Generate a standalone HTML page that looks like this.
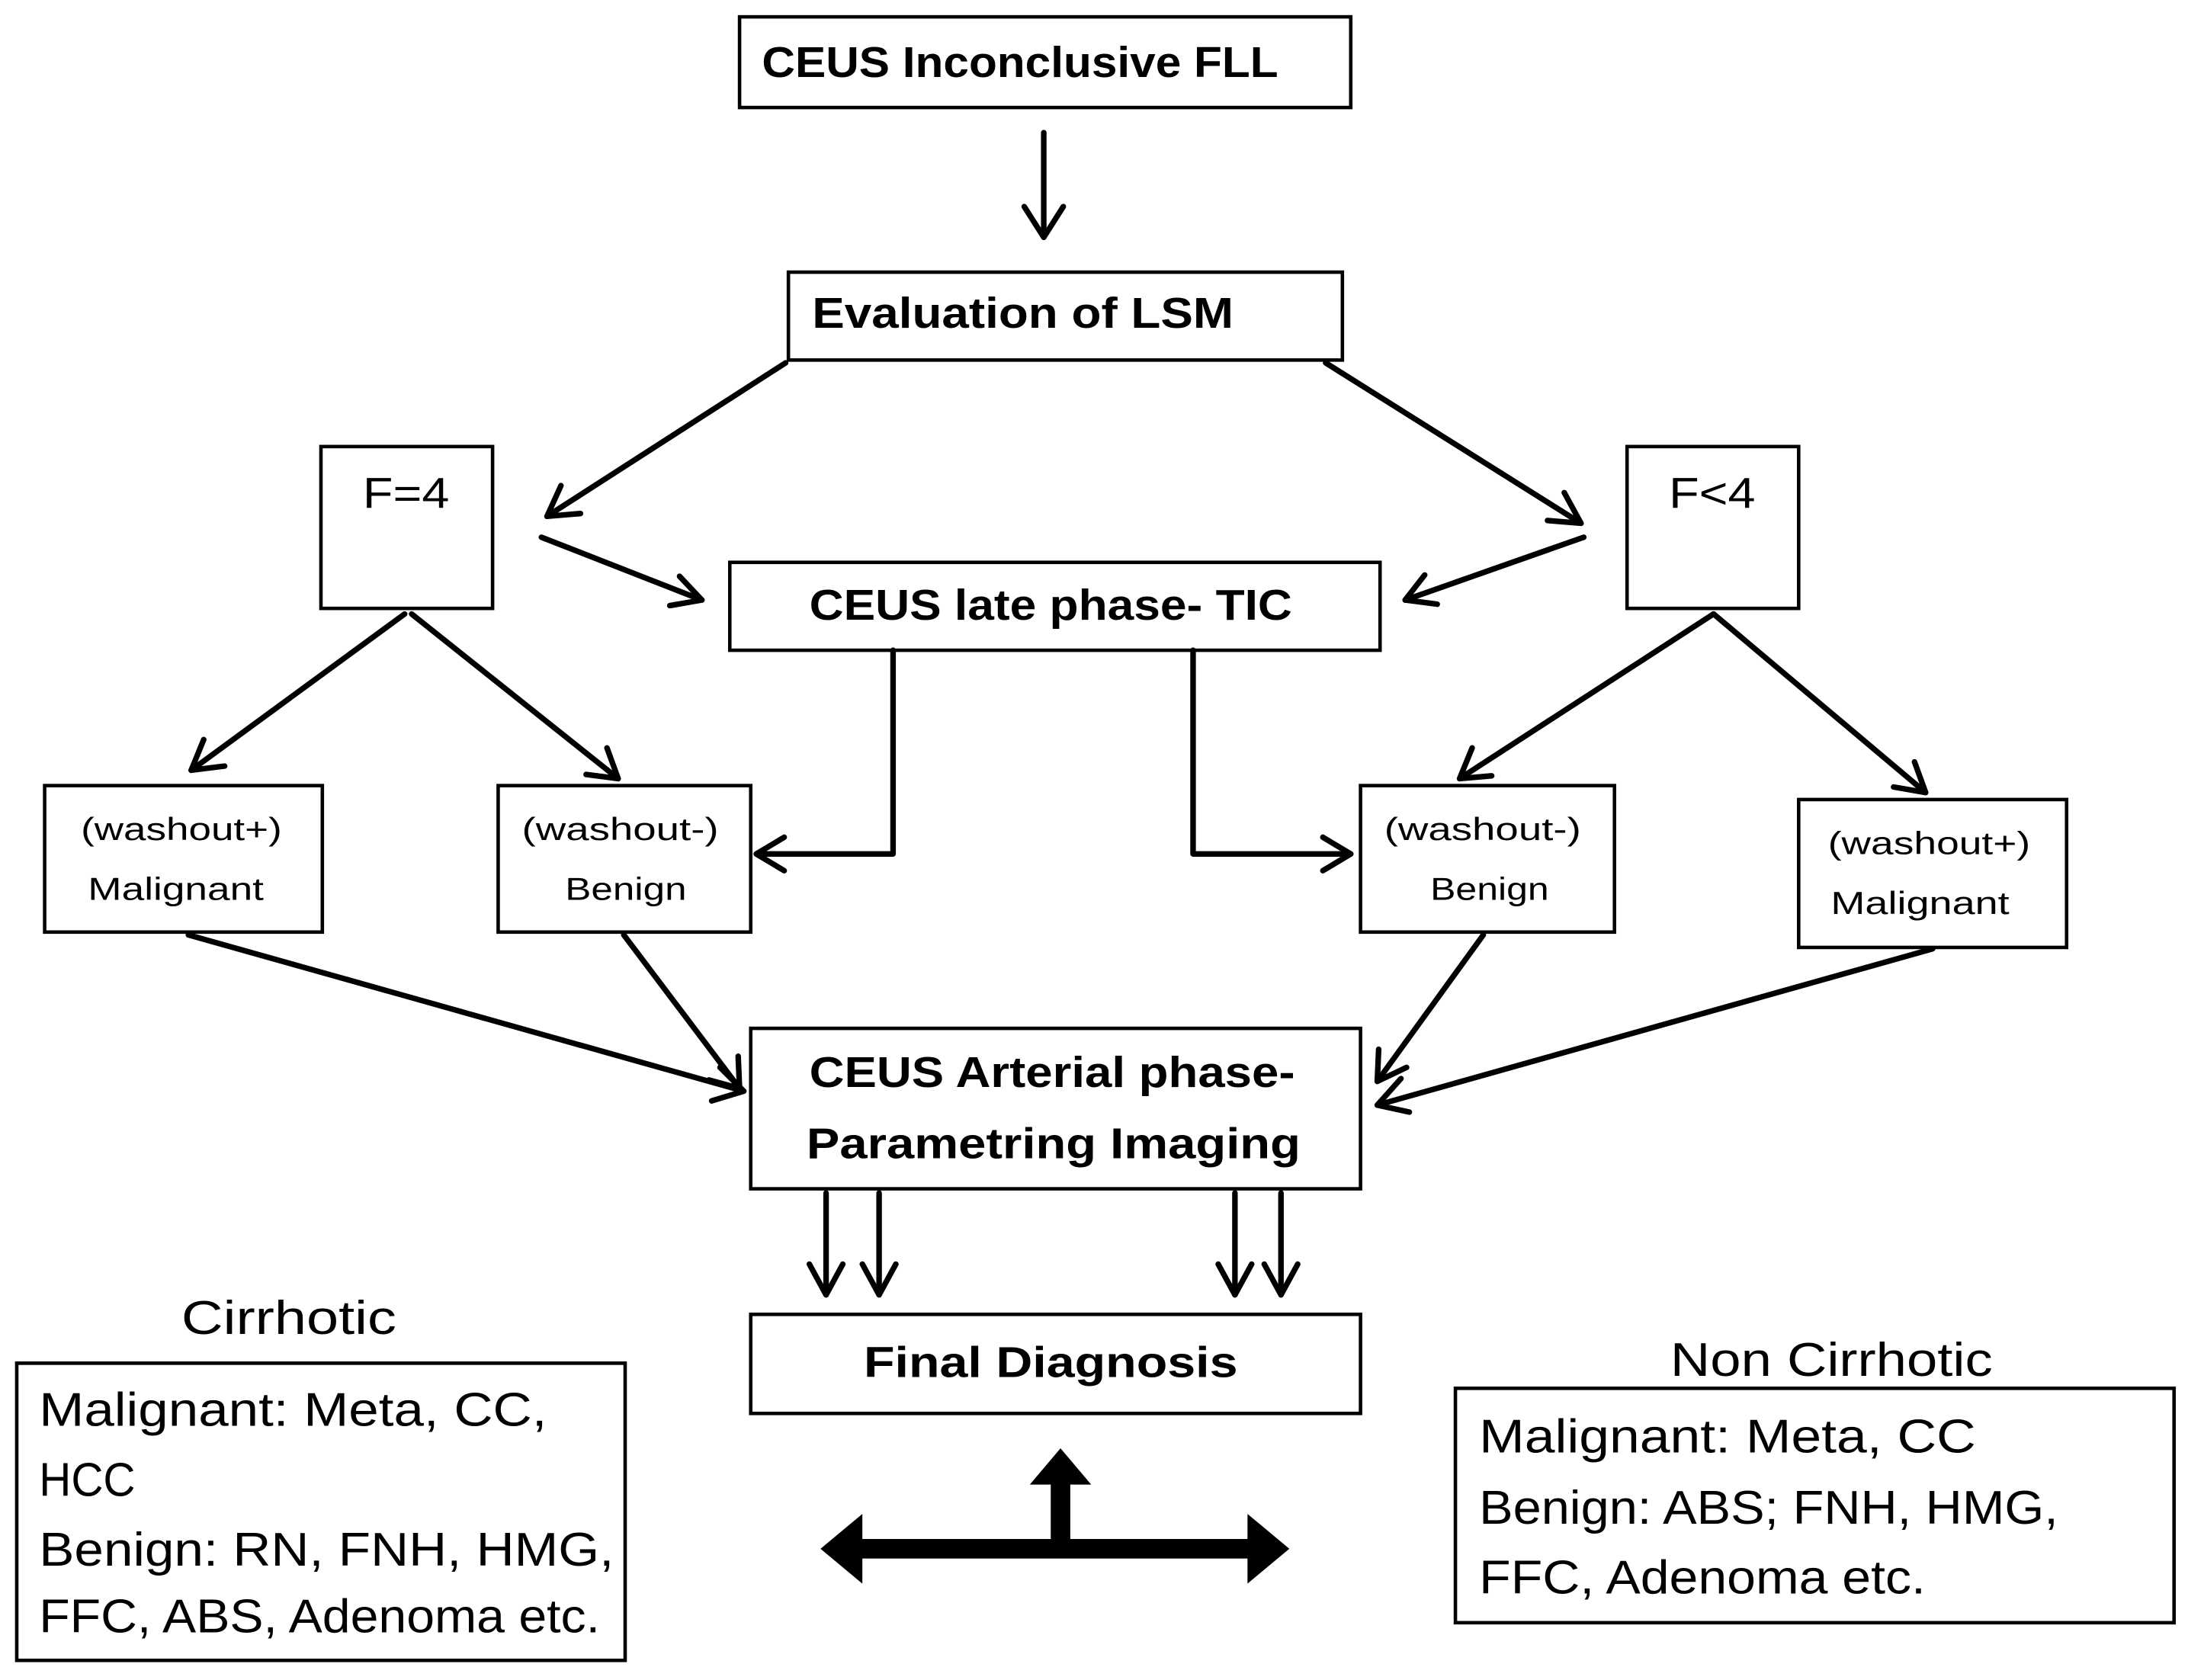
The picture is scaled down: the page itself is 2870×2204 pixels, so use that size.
<!DOCTYPE html>
<html><head><meta charset="utf-8"><style>
html,body{margin:0;padding:0;background:#fff}
svg{display:block}
text{font-family:"Liberation Sans","DejaVu Sans",sans-serif;fill:#000}
</style></head><body>
<svg width="2870" height="2204" viewBox="0 0 1568 1204" xmlns="http://www.w3.org/2000/svg">
<g fill="#fff" stroke="#000" stroke-width="2.5">
<rect x="530" y="12" width="438" height="65"/>
<rect x="565" y="195" width="397" height="63"/>
<rect x="230" y="320" width="123" height="116"/>
<rect x="1166" y="320" width="123" height="116"/>
<rect x="523" y="403" width="466" height="63"/>
<rect x="32" y="563" width="199" height="105"/>
<rect x="357" y="563" width="181" height="105"/>
<rect x="975" y="563" width="182" height="105"/>
<rect x="1289" y="573" width="192" height="106"/>
<rect x="538" y="737" width="437" height="115"/>
<rect x="538" y="942" width="437" height="71"/>
<rect x="12" y="977" width="436" height="213"/>
<rect x="1043" y="995" width="515" height="168"/>
</g>
<g font-weight="bold" font-size="31">
<text x="546" y="55" textLength="370" lengthAdjust="spacingAndGlyphs">CEUS Inconclusive  FLL</text>
<text x="582" y="235" textLength="302" lengthAdjust="spacingAndGlyphs">Evaluation of LSM</text>
<text x="580" y="444" textLength="346" lengthAdjust="spacingAndGlyphs">CEUS late phase- TIC</text>
<text x="580" y="779" textLength="348" lengthAdjust="spacingAndGlyphs">CEUS Arterial phase-</text>
<text x="578" y="830" textLength="354" lengthAdjust="spacingAndGlyphs">Parametring Imaging</text>
<text x="619" y="987" textLength="268" lengthAdjust="spacingAndGlyphs">Final Diagnosis</text>
</g>
<g font-size="31">
<text x="260" y="364" textLength="62" lengthAdjust="spacingAndGlyphs">F=4</text>
<text x="1196" y="364" textLength="62" lengthAdjust="spacingAndGlyphs">F&lt;4</text>
</g>
<g font-size="23" lengthAdjust="spacingAndGlyphs">
<text x="58" y="602" textLength="144" lengthAdjust="spacingAndGlyphs">(washout+)</text><text x="63" y="645" textLength="126" lengthAdjust="spacingAndGlyphs">Malignant</text>
<text x="374" y="602" textLength="141" lengthAdjust="spacingAndGlyphs">(washout-)</text><text x="405" y="645" textLength="87" lengthAdjust="spacingAndGlyphs">Benign</text>
<text x="992" y="602" textLength="141" lengthAdjust="spacingAndGlyphs">(washout-)</text><text x="1025" y="645" textLength="85" lengthAdjust="spacingAndGlyphs">Benign</text>
<text x="1310" y="612" textLength="145" lengthAdjust="spacingAndGlyphs">(washout+)</text><text x="1312" y="655" textLength="128" lengthAdjust="spacingAndGlyphs">Malignant</text>
</g>
<g font-size="34">
<text x="130" y="956" textLength="154" lengthAdjust="spacingAndGlyphs">Cirrhotic</text>
<text x="28" y="1022" textLength="364" lengthAdjust="spacingAndGlyphs">Malignant:  Meta, CC,</text>
<text x="28" y="1072" textLength="69" lengthAdjust="spacingAndGlyphs">HCC</text>
<text x="28" y="1122" textLength="412" lengthAdjust="spacingAndGlyphs">Benign: RN, FNH, HMG,</text>
<text x="28" y="1170" textLength="402" lengthAdjust="spacingAndGlyphs">FFC, ABS, Adenoma etc.</text>
<text x="1197" y="986" textLength="231" lengthAdjust="spacingAndGlyphs">Non Cirrhotic</text>
<text x="1060" y="1041" textLength="356" lengthAdjust="spacingAndGlyphs">Malignant:  Meta, CC</text>
<text x="1060" y="1092" textLength="415" lengthAdjust="spacingAndGlyphs">Benign: ABS; FNH, HMG,</text>
<text x="1060" y="1142" textLength="320" lengthAdjust="spacingAndGlyphs">FFC, Adenoma etc.</text>
</g>
<g stroke="#000" stroke-width="4" fill="none" stroke-linecap="round" stroke-linejoin="round">
<path d="M748 95V170"/><path d="M734 148L748 170L762 148"/>
<path d="M563 260L392 370"/><path d="M402 348L392 370L416 368"/>
<path d="M950 260L1133 375"/><path d="M1109 373L1133 375L1121 353"/>
<path d="M388 385L503 430"/><path d="M480 434L503 430L487 413"/>
<path d="M1135 385L1007 430"/><path d="M1021 412L1007 430L1030 433"/>
<path d="M290 440L137 552"/><path d="M146 530L137 552L161 549"/>
<path d="M295 440L443 558"/><path d="M420 555L443 558L435 536"/>
<path d="M1228 440L1046 558"/><path d="M1055 536L1046 558L1069 556"/>
<path d="M1228 440L1380 568"/><path d="M1357 564L1380 568L1372 546"/>
<path d="M640 466V612H542"/><path d="M562 600L542 612L562 624"/>
<path d="M855 466V612H968"/><path d="M948 600L968 612L948 624"/>
<path d="M135 670L533 782"/><path d="M510 789L533 782L516 765"/>
<path d="M447 670L530 780"/><path d="M508 774L530 780L529 757"/>
<path d="M1063 670L987 775"/><path d="M988 752L987 775L1008 765"/>
<path d="M1385 680L987 792"/><path d="M1004 773L987 792L1010 797"/>
<path d="M592 855V928"/><path d="M580 906L592 928L604 906"/>
<path d="M630 855V928"/><path d="M618 906L630 928L642 906"/>
<path d="M885 855V928"/><path d="M873 906L885 928L897 906"/>
<path d="M918 855V928"/><path d="M906 906L918 928L930 906"/>
</g>
<g fill="#000">
<rect x="612" y="1103" width="290" height="14"/>
<polygon points="588,1110 618,1085 618,1135"/>
<polygon points="924,1110 894,1085 894,1135"/>
<rect x="753" y="1060" width="14" height="50"/>
<polygon points="760,1038 738,1064 782,1064"/>
</g>
</svg>
</body></html>
